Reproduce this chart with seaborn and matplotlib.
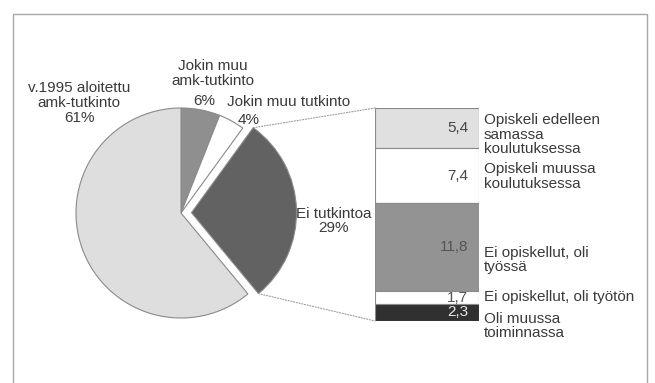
import matplotlib
matplotlib.use("Agg")
import matplotlib.pyplot as plt
from matplotlib.patches import Rectangle, ConnectionPatch
import numpy as np
import seaborn as sns

# Pie: outcome of studies started in 1995 (per cent)
pie_values = [6, 4, 29, 61]
pie_colors = ["#8f8f8f", "#ffffff", "#626262", "#dedede"]

# Breakdown of the "Ei tutkintoa" share
bar_values = [5.4, 7.4, 11.8, 1.7, 2.3]
bar_value_labels = ["5,4", "7,4", "11,8", "1,7", "2,3"]
bar_categories = [
    "Opiskeli edelleen\nsamassa\nkoulutuksessa",
    "Opiskeli muussa\nkoulutuksessa",
    "Ei opiskellut, oli\ntyössä",
    "Ei opiskellut, oli työtön",
    "Oli muussa\ntoiminnassa",
]
bar_colors = ["#e0e0e0", "#ffffff", "#939393", "#ffffff", "#303030"]
bar_value_colors = ["#444444", "#444444", "#555555", "#555555", "#e6e6e6"]
bar_label_y = [3.6, 9.2, 20.4, 25.4, 29.3]

sns.set_theme(style="white")
plt.rcParams["font.family"] = ["Liberation Sans", "DejaVu Sans"]
TXT = "#3a3a3a"
FS = 11
LS = 1.05

W, H = 655, 383
fig = plt.figure(figsize=(W / 100, H / 100), dpi=100)
fig.patch.set_facecolor("white")

# outer frame
fig.patches.append(Rectangle((13 / W, -0.05), (647 - 13) / W, 1.05 - 14 / H,
                             transform=fig.transFigure, fill=False,
                             edgecolor="#a8a8a8", linewidth=1.0))

# ---- pie ----
lim = 1.238
ax_pie = fig.add_axes([51 / W, (H - 343) / H, 260 / W, 260 / H])
wedges, _ = ax_pie.pie(pie_values, colors=pie_colors, startangle=90,
                       counterclock=False, explode=[0, 0, 0.1, 0],
                       wedgeprops=dict(edgecolor="#8a8a8a", linewidth=0.8))
ax_pie.set_xlim(-lim, lim)
ax_pie.set_ylim(-lim, lim)
ax_pie.set_aspect("equal")
ax_pie.axis("off")

ax_pie.text(-0.971, 1.048, "v.1995 aloitettu\namk-tutkinto\n61%", ha="center",
            va="center", fontsize=FS, color=TXT, linespacing=LS)
ax_pie.text(0.305, 1.33, "Jokin muu\namk-tutkinto", ha="center",
            va="center", fontsize=FS, color=TXT, linespacing=LS, clip_on=False)
ax_pie.text(0.325, 1.067, "6%", ha="right", va="center", fontsize=FS, color=TXT)
ax_pie.text(0.44, 1.057, "Jokin muu tutkinto", ha="left", va="center",
            fontsize=FS, color=TXT)
ax_pie.text(0.543, 0.886, "4%", ha="left", va="center", fontsize=FS, color=TXT)
ax_pie.text(1.457, -0.076, "Ei tutkintoa\n29%", ha="center", va="center",
            fontsize=FS, color=TXT, linespacing=LS, clip_on=False)

# ---- stacked bar ----
total = float(np.sum(bar_values))
bottoms = np.concatenate([[0.0], np.cumsum(bar_values)[:-1]])
ax_bar = fig.add_axes([375 / W, (H - 321) / H, 104 / W, 213 / H])
ax_bar.bar(np.zeros(len(bar_values)), bar_values, bottom=bottoms, width=1.0,
           color=bar_colors, edgecolor="#8a8a8a", linewidth=0.8)
ax_bar.set_xlim(-0.5, 0.5)
ax_bar.set_ylim(total, 0)
ax_bar.axis("off")

tr = ax_bar.get_yaxis_transform()
for b, v, lab, c in zip(bottoms, bar_values, bar_value_labels, bar_value_colors):
    ax_bar.text(0.894, b + v / 2, lab, transform=tr, ha="right", va="center",
                fontsize=FS, color=c)
for y, lab in zip(bar_label_y, bar_categories):
    ax_bar.text(1.048, y, lab, transform=tr, ha="left", va="center",
                fontsize=FS, color=TXT, linespacing=LS, clip_on=False)

# dotted connectors from the exploded wedge to the bar
w = wedges[2]
cx, cy = w.center
for theta, ybar in ((w.theta2, 0.0), (w.theta1, total)):
    t = np.deg2rad(theta)
    p = (cx + w.r * np.cos(t), cy + w.r * np.sin(t))
    con = ConnectionPatch(xyA=p, coordsA=ax_pie.transData,
                          xyB=(-0.5, ybar), coordsB=ax_bar.transData,
                          linestyle=(0, (1, 1.5)), color="#9a9a9a", linewidth=0.8)
    fig.add_artist(con)

fig.savefig("out.png", dpi=100)
